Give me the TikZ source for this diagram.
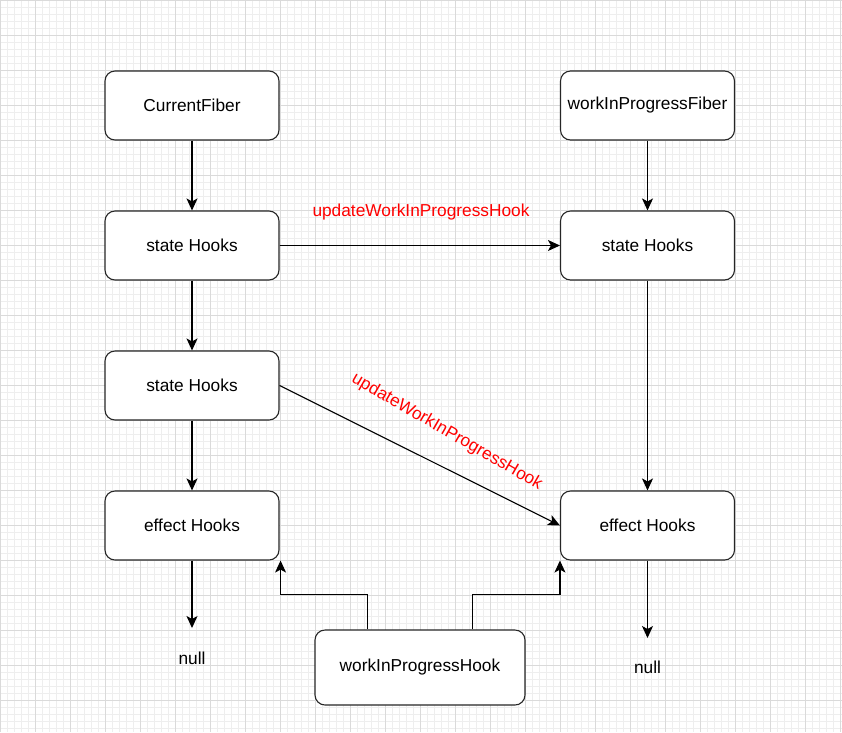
\documentclass[tikz,border=0pt]{standalone}
\usepackage{fontspec}
\setmainfont{Liberation Sans}
\usetikzlibrary{arrows.meta,calc}
\definecolor{gridminor}{HTML}{EEEEEE}
\definecolor{gridmajor}{HTML}{DADADA}
\tikzset{
  box/.style={draw=black!85, line width=1.1pt, rounded corners=10pt, fill=white,
    minimum width=174pt, minimum height=69pt, inner sep=0pt, font=\fontsize{17.3}{20}\selectfont},
  arr/.style={draw=black, line width=1.1pt, -{Stealth[length=12pt,width=11pt,inset=3pt]}},
  lbl/.style={text=red, font=\fontsize{17.3}{20}\selectfont, inner sep=0pt},
  plain/.style={font=\fontsize{17.3}{20}\selectfont, inner sep=0pt}
}
\begin{document}
\begin{tikzpicture}[x=1pt,y=-1pt]
\useasboundingbox (0,0) rectangle (842,732);
\fill[white] (0,0) rectangle (842,732);
\foreach \x in {0,7,...,842} \draw[gridminor, line width=0.8pt] (\x,0) -- (\x,732);
\foreach \y in {0,7,...,732} \draw[gridminor, line width=0.8pt] (0,\y) -- (842,\y);
\foreach \x in {0,35,...,842} \draw[gridmajor, line width=0.9pt] (\x,0) -- (\x,732);
\foreach \y in {0,35,...,732} \draw[gridmajor, line width=0.9pt] (0,\y) -- (842,\y);

\node[box] (cf) at (192,105.5) {CurrentFiber};
\node[box] (wf) at (647.5,105.5) {workInProgressFiber};
\node[box] (s1) at (192,245.5) {state Hooks};
\node[box] (s1r) at (647.5,245.5) {state Hooks};
\node[box] (s2) at (192,385.5) {state Hooks};
\node[box] (el) at (192,525.5) {effect Hooks};
\node[box] (er) at (647.5,525.5) {effect Hooks};
\node[box, minimum width=210pt, minimum height=75pt] (wh) at (420,667.5) {workInProgressHook};

\coordinate (nl) at (192,628);
\coordinate (nr) at (647.5,638);
\node[plain] (nulll) at (192,658) {null};
\node[plain] (nullr) at (647.5,667) {null};

\draw[arr] (cf) -- (s1);
\draw[arr] (wf) -- (s1r);
\draw[arr] (s1) -- (s2);
\draw[arr] (s2) -- (el);
\draw[arr] (s1r) -- (er);
\draw[arr] (s1) -- (s1r);
\draw[arr] (s2.east) -- (er.west);
\draw[arr] (el) -- (nl);
\draw[arr] (er) -- (nr);
\draw[arr] ([xshift=-52.5pt]wh.north) -- ++(0,-35) -| ([xshift=1pt]el.south east);
\draw[arr] ([xshift=52.5pt]wh.north) -- ++(0,-35) -| (er.south west);

\node[lbl] (l1) at (421,212) {updateWorkInProgressHook};
\node[lbl, rotate=-30] (l2) at (447,432) {updateWorkInProgressHook};
\end{tikzpicture}
\end{document}
